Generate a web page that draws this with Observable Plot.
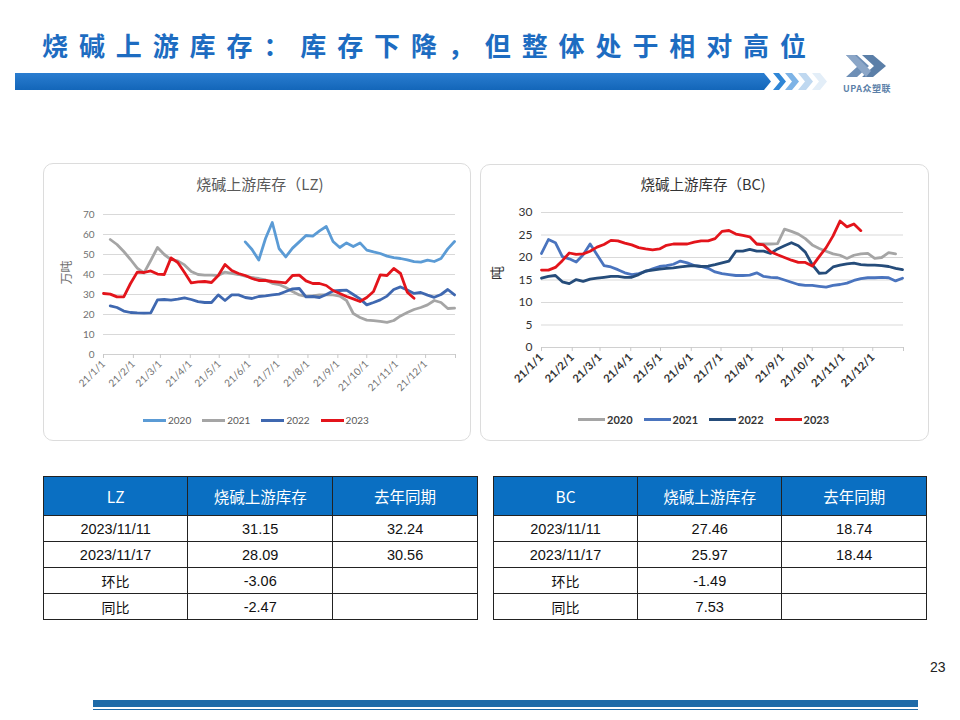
<!DOCTYPE html>
<html>
<head>
<meta charset="utf-8">
<script src="https://cdn.jsdelivr.net/npm/d3@7"></script>
<script src="https://cdn.jsdelivr.net/npm/@observablehq/plot@0.6"></script>
<style>
  html, body { margin:0; padding:0; background:#fff; }
  #page { position:relative; width:960px; height:720px; overflow:hidden; background:#fff;
          font-family: "Noto Sans CJK SC", "Noto Sans", sans-serif; }
  .abs { position:absolute; }
  #title { left:42px; top:27px; font-size:26px; font-weight:bold; color:#1D6CC1; letter-spacing:10.9px; white-space:nowrap; line-height:36px; }
  .card { position:absolute; border:1px solid #dcdcdc; border-radius:10px; background:#fff; }
  .ctitle { position:absolute; white-space:nowrap; transform:translateX(-50%); }
  .legend { position:absolute; display:flex; align-items:center; white-space:nowrap; font-family: Lato, "Noto Sans CJK SC", sans-serif; }
  .legend .item { display:flex; align-items:center; }
  .legend .sw { display:inline-block; height:3px; }
  table.t { position:absolute; border-collapse:collapse; font-family:"Liberation Sans", "Noto Sans CJK SC", sans-serif; }
  table.t td { border:1px solid #222; text-align:center; padding:0; font-size:14.5px; color:#111; }
  table.t tr.h td { background:#0A6FC2; color:#fff; font-size:15.5px; height:38px; font-family:"Noto Sans CJK SC", sans-serif; }
  table.t tr.b td { height:25px; }
  table.t td.cn { font-family:"Noto Sans CJK SC", sans-serif; font-size:14px; }
</style>
</head>
<body>
<div id="page">
  <div id="title" class="abs"></div>
  <svg class="abs" style="left:0;top:0" width="960" height="110">
    <defs>
      <linearGradient id="bar" x1="0" y1="0" x2="0" y2="1">
        <stop offset="0" stop-color="#2A7DD0"/>
        <stop offset="1" stop-color="#1366B9"/>
      </linearGradient>
    </defs>
    <polygon points="15,73 764,73 771,81.5 764,90 15,90" fill="url(#bar)"/>
    <polygon points="773,73 779,73 786,81.5 779,90 773,90 780,81.5" fill="#2F86D6"/>
    <polygon points="785,73 792,73 799,81.5 792,90 785,90 792,81.5" fill="#7DB3E6"/>
    <polygon points="798,73 806,73 813,81.5 806,90 798,90 805,81.5" fill="#BFD8F0"/>
    <polygon points="812,73 820,73 827,81.5 820,90 812,90 819,81.5" fill="#E3EEF8"/>
    <g>
      <polygon points="846,55 857,55 869,66 857,77 846,77 858,66" fill="#6E8FB6"/>
      <polygon points="862,55 873,55 886,66 873,77 862,77 874,66" fill="#5B7FA8"/>
      <polygon points="846,55 855,55 871,71 866,77" fill="#8BA6C7"/>
    </g>
    <text x="867" y="92" text-anchor="middle" font-size="9" fill="#5B7FA8" font-family="Noto Sans CJK SC" font-weight="bold" letter-spacing="0.5">UPA众塑联</text>
  </svg>

  <div class="card" style="left:43px;top:163px;width:426px;height:276px;"></div>
  <div class="card" style="left:480px;top:164px;width:447px;height:275px;"></div>

  <div id="lzTitle" class="ctitle" style="left:260px;top:173px;font-size:15px;color:#595959;"></div>
  <div id="bcTitle" class="ctitle" style="left:703px;top:173px;font-size:14.5px;color:#333;"></div>

  <div id="lzChart" class="abs" style="left:43px;top:200px;"></div>
  <div id="bcChart" class="abs" style="left:480px;top:195px;"></div>

  <div id="lzLegend" class="legend" style="left:143px;top:412px;height:16px;font-size:10px;color:#595959;"></div>
  <div id="bcLegend" class="legend" style="left:578px;top:411px;height:16px;font-size:11px;color:#333;font-weight:bold;"></div>

  <table id="lzTable" class="t" style="left:43px;top:476px;width:435px;"></table>
  <table id="bcTable" class="t" style="left:493px;top:476px;width:434px;"></table>

  <div class="abs" style="left:930px;top:659px;font-size:14px;color:#222;font-family:'Liberation Sans',sans-serif;">23</div>
  <div class="abs" style="left:93px;top:700px;width:825px;height:7px;background:#1F6BA8;"></div>
  <div class="abs" style="left:93px;top:708.5px;width:825px;height:1.5px;background:#1F6BA8;"></div>
</div>

<script>
// ---------- text ----------
const pageTitle = "烧碱上游库存：库存下降，但整体处于相对高位";
const lzChartTitle = "烧碱上游库存（LZ)";
const bcChartTitle = "烧碱上游库存（BC)";
const lzUnit = "万吨";
const bcUnit = "吨";

// ---------- axis ticks ----------
const monthLabels = ["21/1/1","21/2/1","21/3/1","21/4/1","21/5/1","21/6/1","21/7/1","21/8/1","21/9/1","21/10/1","21/11/1","21/12/1"];
const lzYTicks = [0,10,20,30,40,50,60,70];
const bcYTicks = [0,5,10,15,20,25,30];

// ---------- series (weekly values; start = first week index from 1 Jan) ----------
const years = ["2020","2021","2022","2023"];

const lz2020Start = 21;
const lz2020 = [56.3,52.5,47.2,58.0,66.0,53.0,48.8,53.2,56.3,59.5,59.2,61.8,64.0,56.5,53.5,55.8,54.0,55.8,52.2,51.3,50.5,49.2,48.4,48.0,47.3,46.4,46.2,47.2,46.5,48.0,52.8,56.5];
const lz2021Start = 1;
const lz2021 = [57.5,55.0,51.5,47.5,43.2,40.8,47.0,53.5,50.0,47.5,46.8,44.8,41.5,40.0,39.7,39.7,39.5,41.2,40.6,40.0,39.2,38.5,38.0,37.3,35.6,35.0,33.5,31.5,29.8,29.0,29.3,29.8,29.8,29.8,29.2,27.0,20.5,18.5,17.2,16.9,16.6,16.1,17.0,19.3,21.0,22.5,23.5,24.8,27.0,26.0,23.0,23.2];
const lz2022Start = 1;
const lz2022 = [24.3,23.5,21.7,21.0,20.8,20.7,20.8,27.3,27.5,27.2,27.7,28.3,27.5,26.4,26.0,26.0,29.8,27.0,29.8,29.8,28.5,28.0,29.0,29.3,29.8,30.2,31.5,32.8,33.0,28.8,29.0,28.5,30.0,31.8,32.0,32.2,30.0,27.8,24.8,26.0,27.3,29.2,32.5,33.8,32.24,30.56,31.0,29.7,28.6,30.0,32.5,29.8];
const lz2023Start = 0;
const lz2023 = [30.5,30.2,28.8,28.8,35.5,41.2,41.0,41.8,40.2,40.0,48.3,46.0,41.0,35.8,36.3,36.5,36.0,39.5,45.0,42.0,40.5,39.5,38.0,37.0,37.0,36.5,36.2,35.8,39.5,39.7,36.8,35.5,35.5,34.5,32.0,30.5,29.0,27.8,26.5,28.5,31.5,39.8,39.5,43.0,40.5,31.15,28.09];

const bc2020Start = 31;
const bc2020 = [23.0,23.0,23.0,23.1,26.3,25.8,25.2,24.2,22.8,22.0,21.4,20.8,20.5,19.8,20.5,20.8,20.9,19.8,20.0,21.1,20.8];
const bc2021Start = 0;
const bc2021 = [20.9,24.0,23.3,20.2,19.7,19.0,20.6,23.0,20.6,18.2,17.9,17.3,16.6,16.2,16.4,16.9,17.5,18.0,18.2,18.5,19.2,18.8,18.2,18.0,17.6,16.8,16.4,16.2,16.0,16.0,16.1,16.6,15.8,15.6,15.5,15.0,14.5,14.0,13.8,13.8,13.6,13.4,13.8,14.0,14.3,14.9,15.3,15.5,15.5,15.6,15.5,14.8,15.4];
const bc2022Start = 0;
const bc2022 = [15.4,15.8,16.0,14.6,14.2,15.1,14.7,15.2,15.4,15.6,15.8,15.8,15.6,15.6,16.2,17.0,17.2,17.4,17.6,17.7,17.9,18.1,18.2,18.0,18.1,18.4,18.8,19.2,21.4,21.4,21.8,21.4,21.4,20.9,21.9,22.6,23.3,22.6,21.2,18.4,16.5,16.6,17.9,18.3,18.6,18.74,18.44,18.3,18.3,18.2,18.0,17.6,17.3];
const bc2023Start = 0;
const bc2023 = [17.2,17.2,17.8,19.3,21.0,20.7,20.8,21.4,22.3,22.9,23.8,23.7,23.2,22.8,22.2,21.9,21.7,21.9,22.7,23.0,23.0,23.0,23.4,23.7,23.7,24.2,25.8,26.0,25.2,24.9,24.6,23.0,22.8,21.3,20.6,20.0,19.4,18.9,18.9,18.1,20.2,22.2,24.8,28.1,26.8,27.46,25.97];

// ---------- colours ----------
const lzColors = ["#5B9BD5","#A5A5A5","#3F68B0","#E3141B"];
const bcColors = ["#A5A5A5","#4A74BE","#254C7A","#E3141B"];

// ---------- tables ----------
const tableHeadLZ = ["LZ","烧碱上游库存","去年同期"];
const tableHeadBC = ["BC","烧碱上游库存","去年同期"];
const tableRowLabels = ["2023/11/11","2023/11/17","环比","同比"];
const lzNow = ["31.15","28.09","-3.06","-2.47"];
const lzLastYear = ["32.24","30.56","",""];
const bcNow = ["27.46","25.97","-1.49","7.53"];
const bcLastYear = ["18.74","18.44","",""];

// ---------- build ----------
document.getElementById("title").textContent = pageTitle;
document.getElementById("lzTitle").textContent = lzChartTitle;
document.getElementById("bcTitle").textContent = bcChartTitle;

const base = new Date(2021, 0, 1);
const xDomain = [base, new Date(2022, 0, 1)];
const tickDates = d3.timeMonth.range(base, new Date(2022, 0, 2));
const tickFmt = d => { const i = d.getFullYear() === 2021 ? d.getMonth() : -1; return i >= 0 ? monthLabels[i] : ""; };

function toRows(year, start, vals) {
  return vals.map((v, i) => ({date: d3.timeDay.offset(base, 7 * (start + i)), value: v, year}));
}

const lzData = [
  ...toRows("2020", lz2020Start, lz2020),
  ...toRows("2021", lz2021Start, lz2021),
  ...toRows("2022", lz2022Start, lz2022),
  ...toRows("2023", lz2023Start, lz2023)
];
const bcData = [
  ...toRows("2020", bc2020Start, bc2020),
  ...toRows("2021", bc2021Start, bc2021),
  ...toRows("2022", bc2022Start, bc2022),
  ...toRows("2023", bc2023Start, bc2023)
];

function chart({data, colors, yTicks, unit, width, height, mL, mR, mT, mB, fs, xfs, tickColor, xWeight, unitDx}) {
  return Plot.plot({
    width, height,
    marginLeft: mL, marginRight: mR, marginTop: mT, marginBottom: mB,
    style: {background: "transparent", fontFamily: "Lato, 'Noto Sans CJK SC', sans-serif", overflow: "visible"},
    x: {type: "time", domain: xDomain},
    y: {domain: [yTicks[0], yTicks[yTicks.length - 1]]},
    color: {domain: years, range: colors},
    marks: [
      Plot.gridY(yTicks.slice(1), {stroke: "#d9d9d9", strokeOpacity: 1, strokeWidth: 1}),
      Plot.ruleY([0], {stroke: "#d0d0d0", strokeWidth: 1}),
      Plot.axisY(yTicks, {tickSize: 0, tickPadding: 9, fontSize: fs, fill: tickColor, label: null}),
      Plot.axisX(tickDates, {tickSize: 4, stroke: "#c8c8c8", tickPadding: 4, tickRotate: -45, tickFormat: tickFmt, fontSize: xfs, fill: tickColor, fontWeight: xWeight, label: null}),
      Plot.text([unit], {frameAnchor: "left", rotate: -90, dx: unitDx, fontSize: fs + 2, fill: tickColor, fontFamily: "Noto Sans CJK SC"}),
      Plot.lineY(data, {x: "date", y: "value", z: "year", stroke: "year", strokeWidth: 2.8, strokeLinejoin: "round", strokeLinecap: "round"})
    ]
  });
}

document.getElementById("lzChart").append(chart({
  data: lzData, colors: lzColors, yTicks: lzYTicks, unit: lzUnit,
  width: 427, height: 212, mL: 60, mR: 15, mT: 14, mB: 58, fs: 10, xfs: 10, tickColor: "#707070", xWeight: "normal", unitDx: -36
}));
document.getElementById("bcChart").append(chart({
  data: bcData, colors: bcColors, yTicks: bcYTicks, unit: bcUnit,
  width: 448, height: 215, mL: 61, mR: 25, mT: 17, mB: 63, fs: 12, xfs: 11, tickColor: "#333", xWeight: "bold", unitDx: -44
}));

function legend(id, colors, gap, sw) {
  const el = document.getElementById(id);
  years.forEach((y, i) => {
    const item = document.createElement("div");
    item.className = "item";
    item.style.marginRight = gap + "px";
    const s = document.createElement("span");
    s.className = "sw"; s.style.width = sw + "px"; s.style.background = colors[i]; s.style.marginRight = "2px";
    const t = document.createElement("span"); t.textContent = y;
    item.append(s, t);
    el.append(item);
  });
}
legend("lzLegend", lzColors, 11, 23);
legend("bcLegend", bcColors, 11, 27);

function table(id, head, now, last) {
  const el = document.getElementById(id);
  const hr = el.insertRow(); hr.className = "h";
  head.forEach((h, i) => { const c = hr.insertCell(); c.textContent = h; c.style.width = (i === 0 ? 144 : 145) + "px"; });
  tableRowLabels.forEach((lab, r) => {
    const tr = el.insertRow(); tr.className = "b";
    const c0 = tr.insertCell(); c0.textContent = lab; if (r >= 2) c0.className = "cn";
    const c1 = tr.insertCell(); c1.textContent = now[r];
    const c2 = tr.insertCell(); c2.textContent = last[r];
  });
}
table("lzTable", tableHeadLZ, lzNow, lzLastYear);
table("bcTable", tableHeadBC, bcNow, bcLastYear);
</script>
</body>
</html>
